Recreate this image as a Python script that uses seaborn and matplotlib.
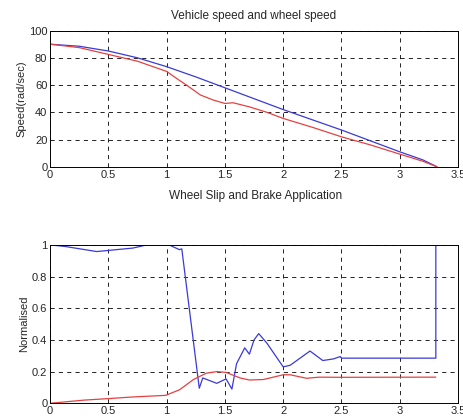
import matplotlib
matplotlib.use("Agg")
import matplotlib.pyplot as plt
import seaborn as sns

# vehicle / wheel speed (rad/s) against time (s)
t_vehicle = [0, 0.25, 0.5, 0.75, 1.0, 1.25, 1.5, 1.75, 2.0, 2.25, 2.5, 2.75, 3.0, 3.2, 3.32]
v_vehicle = [90, 88.5, 85, 80, 73.5, 66, 58, 50, 42, 34.5, 27, 19, 11, 5, 0]

t_wheel = [0, 0.25, 0.5, 0.75, 1.0, 1.1, 1.17, 1.29, 1.4, 1.5, 1.57, 1.71, 1.86, 2.0, 2.25, 2.5,
           2.75, 3.0, 3.2, 3.32]
v_wheel = [90, 87.5, 82.5, 77.5, 70, 64, 60, 52.7, 49, 46.5, 47, 44, 40, 35.5, 29, 22, 16, 9.3, 4, 0]

# wheel slip (blue) and brake application (red), normalised
t_slip = [0, 0.13, 0.4, 0.54, 0.71, 0.83, 0.99, 1.02, 1.11, 1.13, 1.28, 1.31, 1.43, 1.51, 1.56,
          1.6, 1.67, 1.71, 1.75, 1.79, 1.86, 2.0, 2.06, 2.23, 2.34, 2.43, 2.49, 2.5, 3.31, 3.31]
slip = [1.0, 0.99, 0.958, 0.968, 0.98, 1.0, 1.0, 1.0, 0.97, 0.975, 0.095, 0.16, 0.126, 0.154, 0.09,
        0.25, 0.35, 0.31, 0.4, 0.44, 0.38, 0.23, 0.24, 0.33, 0.27, 0.28, 0.295, 0.285, 0.285, 1.1]

t_brake = [0, 0.29, 0.51, 0.71, 0.99, 1.11, 1.23, 1.34, 1.43, 1.51, 1.63, 1.71, 1.83, 2.0, 2.06,
           2.2, 2.31, 2.49, 3.31]
brake = [0, 0.02, 0.03, 0.04, 0.05, 0.085, 0.15, 0.19, 0.2, 0.195, 0.16, 0.147, 0.15, 0.18, 0.18,
         0.158, 0.165, 0.164, 0.165]

x_ticks = [0, 0.5, 1, 1.5, 2, 2.5, 3, 3.5]
x_labels = ["0", "0.5", "1", "1.5", "2", "2.5", "3", "3.5"]

sns.set_style("white")
plt.rcParams["font.family"] = ["Liberation Sans", "DejaVu Sans"]
plt.rcParams["font.size"] = 8

fig = plt.figure(figsize=(4.64, 4.19), dpi=100)
ax1 = fig.add_axes([0.108, 0.602, 0.879, 0.325])
ax2 = fig.add_axes([0.108, 0.0375, 0.879, 0.378])

blue = "#3a3ad8"
red = "#e84040"

kw = dict(lw=0.9, sort=False, estimator=None)
sns.lineplot(x=t_vehicle, y=v_vehicle, ax=ax1, color=blue, **kw)
sns.lineplot(x=t_wheel, y=v_wheel, ax=ax1, color=red, **kw)
sns.lineplot(x=t_slip, y=slip, ax=ax2, color=blue, **kw)
sns.lineplot(x=t_brake, y=brake, ax=ax2, color=red, **kw)

for ax, yt, yl in [(ax1, [0, 20, 40, 60, 80, 100], ["0", "20", "40", "60", "80", "100"]),
                   (ax2, [0, 0.2, 0.4, 0.6, 0.8, 1], ["0", "0.2", "0.4", "0.6", "0.8", "1"])]:
    ax.set_xlim(0, 3.5)
    ax.set_ylim(yt[0], yt[-1])
    ax.set_xticks(x_ticks)
    ax.set_xticklabels(x_labels)
    ax.set_yticks(yt)
    ax.set_yticklabels(yl)
    ax.grid(True, color="black", linestyle=(0, (5, 5)), linewidth=0.6)
    ax.tick_params(direction="in", length=3, pad=2, labelsize=8)
    for s in ax.spines.values():
        s.set_color("black")
        s.set_linewidth(0.7)

ax1.set_ylabel("Speed(rad/sec)", fontsize=8, labelpad=2)
ax1.set_title("Vehicle speed and wheel speed", fontsize=8.5, pad=8)
ax2.set_ylabel("Normalised", fontsize=8, labelpad=2)
fig.text(0.55, 0.532, "Wheel Slip and Brake Application", ha="center", va="center", fontsize=8.5)

fig.savefig("out.png", dpi=100)
